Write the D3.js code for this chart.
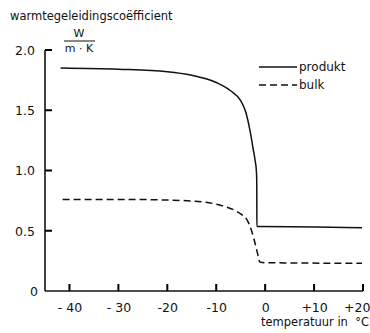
<!DOCTYPE html>
<html>
<head>
<meta charset="utf-8">
<script src="https://cdn.jsdelivr.net/npm/d3@7"></script>
<style>
  body { margin: 0; background: #fff; }
  svg { display: block; }
  text { font-family: "DejaVu Sans", sans-serif; fill: #111; }
</style>
</head>
<body>
<div id="chart"></div>
<script>
// values
var produktTemp = [-41.8, -30, -20, -15, -10, -7, -5, -4, -3, -2.5, -2, -1.8, -1.72, -1.7, -1.69, -1.1, 19.8];
var produktK    = [1.85, 1.84, 1.82, 1.79, 1.73, 1.66, 1.58, 1.49, 1.31, 1.19, 1.07, 1.0, 0.92, 0.75, 0.535, 0.535, 0.525];
var bulkTemp = [-41.4, -30, -20, -13, -9, -6, -4.5, -3.7, -2.7, -1.9, -1.4, -1.1, 0, 19.8];
var bulkK    = [0.76, 0.76, 0.755, 0.74, 0.71, 0.665, 0.625, 0.59, 0.49, 0.37, 0.285, 0.24, 0.235, 0.23];
var xTicks = [-40, -30, -20, -10, 0, 10, 20];
var xTickLabels = ["- 40", "- 30", "-20", "-10", "0", "+10", "+20"];
var yTicks = [0, 0.5, 1.0, 1.5, 2.0];
var yTickLabels = ["0", "0.5", "1.0", "1.5", "2.0"];

var width = 370, height = 333;
var svg = d3.select("#chart").append("svg")
  .attr("width", width)
  .attr("height", height);

var x = d3.scaleLinear().domain([-45, 20]).range([45, 363]);
var y = d3.scaleLinear().domain([0, 2]).range([291, 50]);

var xAxis = d3.axisBottom(x).tickValues(xTicks).tickSize(0).tickPadding(12)
  .tickFormat(function (d, i) { return xTickLabels[i]; });
var yAxis = d3.axisLeft(y).tickValues(yTicks).tickSize(0).tickPadding(10)
  .tickFormat(function (d, i) { return yTickLabels[i]; });

var gx = svg.append("g").attr("transform", "translate(0," + y(0) + ")").call(xAxis);
var gy = svg.append("g").attr("transform", "translate(" + x(-45) + ",0)").call(yAxis);

[gx, gy].forEach(function (g) {
  g.select(".domain").attr("stroke", "#111").attr("stroke-width", 1.6).attr("fill", "none");
  g.selectAll(".tick text").style("font-size", "12.5px").attr("fill", "#111");
});
gx.select(".domain").attr("d", "M" + x(-45) + ",0H" + x(20));
gy.select(".domain").attr("d", "M0," + y(0) + "V" + y(2));

gy.selectAll(".tick text").attr("dy", "0.35em");
gy.selectAll(".tick text").filter(function (d) { return d == 0; }).attr("dx", 3);
gx.selectAll(".tick text").filter(function (d) { return d == 20; })
  .attr("text-anchor", "end").attr("x", 7);

// inward tick marks, drawn on top
var tickPath = "";
xTicks.forEach(function (t) { tickPath += "M" + x(t) + "," + y(0) + "V" + (y(0) - 7); });
yTicks.forEach(function (t) { if (t > 0) tickPath += "M" + x(-45) + "," + y(t) + "H" + (x(-45) + 7); });
svg.append("path").attr("d", tickPath)
  .attr("fill", "none").attr("stroke", "#000").attr("stroke-width", 2);

// titles
svg.append("text").attr("x", 10).attr("y", 20)
  .style("font-size", "11.5px").text("warmtegeleidingscoëfficient");
svg.append("text").attr("x", 79).attr("y", 37).attr("text-anchor", "middle")
  .style("font-size", "11px").text("W");
svg.append("line").attr("x1", 64).attr("x2", 95).attr("y1", 41).attr("y2", 41)
  .attr("stroke", "#111").attr("stroke-width", 1);
svg.append("text").attr("x", 79).attr("y", 52).attr("text-anchor", "middle")
  .style("font-size", "11px").text("m · K");
svg.append("text").attr("x", 369).attr("y", 326).attr("text-anchor", "end")
  .style("font-size", "11.5px").style("white-space", "pre").text("temperatuur in  °C");

// curves
var line = d3.line()
  .x(function (d) { return x(d[0]); })
  .y(function (d) { return y(d[1]); })
  .curve(d3.curveMonotoneX);

var produkt = produktTemp.map(function (t, i) { return [t, produktK[i]]; });
var bulk = bulkTemp.map(function (t, i) { return [t, bulkK[i]]; });

svg.append("path").datum(produkt).attr("d", line)
  .attr("fill", "none").attr("stroke", "#111").attr("stroke-width", 1.5);
svg.append("path").datum(bulk).attr("d", line)
  .attr("fill", "none").attr("stroke", "#111").attr("stroke-width", 1.5)
  .attr("stroke-dasharray", "7,4");

// legend
var legend = svg.append("g").attr("transform", "translate(259,0)");
legend.append("line").attr("x1", 0).attr("x2", 38).attr("y1", 67).attr("y2", 67)
  .attr("stroke", "#111").attr("stroke-width", 1.5);
legend.append("text").attr("x", 40).attr("y", 71).style("font-size", "12px").text("produkt");
legend.append("line").attr("x1", 0).attr("x2", 38).attr("y1", 85).attr("y2", 85)
  .attr("stroke", "#111").attr("stroke-width", 1.5).attr("stroke-dasharray", "7,4");
legend.append("text").attr("x", 40).attr("y", 89).style("font-size", "12px").text("bulk");
</script>
</body>
</html>
